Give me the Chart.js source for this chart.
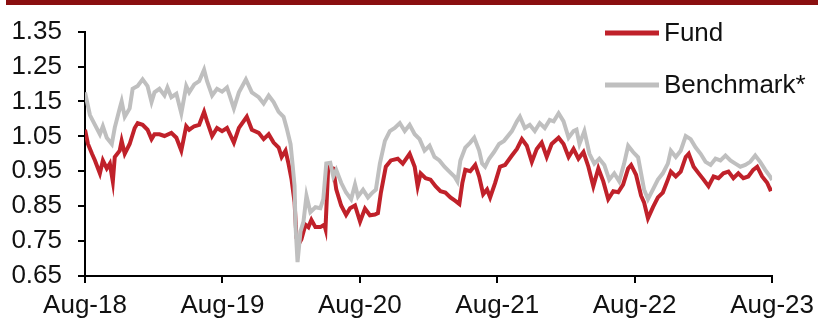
<!DOCTYPE html>
<html>
<head>
<meta charset="utf-8">
<script src="https://cdn.jsdelivr.net/npm/chart.js@4.4.0/dist/chart.umd.min.js"></script>
<style>
    body { margin: 0; background: #fff; }
    #wrap { position: relative; width: 821px; height: 320px; }
    #topBar { position: absolute; left: 6px; right: 3px; top: 0; height: 5px; background: #8a0f10; }
</style>
</head>
<body>
<div id="wrap">
    <div id="topBar"></div>
    <canvas id="myChart"></canvas>
</div>
<script>
// months since Aug-18
const xTickLabels = ['Aug-18', 'Aug-19', 'Aug-20', 'Aug-21', 'Aug-22', 'Aug-23'];
const yTickValues = [0.65, 0.75, 0.85, 0.95, 1.05, 1.15, 1.25, 1.35];

const fundMonths = [0, 0.26, 0.61, 0.87, 1.3, 1.56, 1.9, 2.17, 2.43, 2.6, 3.03, 3.2, 3.47, 3.9, 4.34, 4.6, 5.03, 5.46, 5.81, 6.07,
    6.5, 6.94, 7.54, 7.98, 8.41, 8.84, 9.1, 9.54, 9.97, 10.4, 10.66, 11.1, 11.53, 11.97, 12.4, 13.0, 13.44, 14.13, 14.57, 15.17,
    15.6, 16.04, 16.47, 16.91, 17.17, 17.51, 17.77, 18.04, 18.3, 18.47, 18.73, 18.9, 19.25, 19.51, 19.77, 20.12, 20.55, 20.9, 21.0, 21.24,
    21.68, 21.94, 22.37, 22.8, 23.15, 23.58, 24.02, 24.45, 24.88, 25.32, 25.58, 25.84, 26.27, 26.71, 27.31, 27.75, 28.35, 28.79, 29.05, 29.31,
    29.74, 30.17, 30.61, 31.04, 31.47, 31.91, 32.34, 32.69, 32.95, 33.21, 33.64, 34.08, 34.42, 34.77, 35.11, 35.38, 35.81, 36.24, 36.68, 37.28,
    37.72, 38.15, 38.58, 39.02, 39.45, 39.88, 40.32, 40.75, 41.36, 41.79, 42.23, 42.66, 43.09, 43.53, 43.96, 44.39, 44.83, 45.26, 45.69, 46.13,
    46.56, 46.99, 47.43, 47.69, 48.12, 48.56, 48.82, 49.16, 49.6, 50.03, 50.46, 50.9, 51.16, 51.59, 52.02, 52.46, 52.72, 53.15, 53.59, 54.02,
    54.45, 54.89, 55.32, 55.75, 56.19, 56.62, 57.05, 57.49, 57.92, 58.35, 58.7, 59.13, 59.57, 59.83, 60];
const fundValues = [1.069, 1.028, 1.0, 0.981, 0.944, 0.981, 0.958, 0.972, 0.921, 0.991, 1.009, 1.037, 1.0, 1.028, 1.074, 1.088, 1.083, 1.069, 1.042, 1.056,
    1.056, 1.051, 1.06, 1.046, 1.009, 1.079, 1.069, 1.079, 1.083, 1.12, 1.093, 1.051, 1.074, 1.065, 1.074, 1.032, 1.074, 1.106, 1.069, 1.06,
    1.042, 1.056, 1.032, 1.018, 0.991, 1.009, 0.972, 0.926, 0.861, 0.759, 0.745, 0.755, 0.797, 0.79, 0.811, 0.79, 0.79, 0.797, 0.785, 0.963,
    0.958, 0.898, 0.852, 0.825, 0.844, 0.852, 0.806, 0.843, 0.824, 0.826, 0.83, 0.889, 0.963, 0.981, 0.986, 0.972, 1.0, 0.963, 0.907, 0.944,
    0.93, 0.926, 0.907, 0.893, 0.889, 0.875, 0.865, 0.856, 0.916, 0.954, 0.95, 0.968, 0.935, 0.884, 0.898, 0.875, 0.916, 0.963, 0.968, 0.995,
    1.014, 1.042, 1.023, 0.977, 1.014, 1.032, 0.991, 1.028, 1.046, 1.028, 0.991, 1.014, 0.986, 1.005, 0.963, 0.907, 0.958, 0.921, 0.87, 0.893,
    0.89, 0.912, 0.958, 0.968, 0.94, 0.88, 0.861, 0.815, 0.847, 0.875, 0.889, 0.926, 0.949, 0.935, 0.949, 0.991, 1.0, 0.963, 0.944, 0.926,
    0.907, 0.935, 0.93, 0.944, 0.949, 0.93, 0.944, 0.93, 0.935, 0.954, 0.963, 0.935, 0.917, 0.898, 0.9];

const benchMonths = [0, 0.43, 0.87, 1.3, 1.56, 1.9, 2.34, 2.6, 3.03, 3.2, 3.47, 3.9, 4.16, 4.6, 5.03, 5.46, 5.81, 6.07, 6.5, 6.94,
    7.2, 7.54, 7.98, 8.41, 8.84, 9.1, 9.54, 9.97, 10.4, 10.66, 11.1, 11.53, 11.97, 12.4, 13.0, 13.44, 14.05, 14.57, 15.17, 15.6,
    16.04, 16.47, 16.91, 17.34, 17.6, 17.95, 18.12, 18.3, 18.38, 18.56, 18.82, 19.08, 19.34, 19.68, 20.12, 20.55, 20.81, 21.07, 21.42, 21.68,
    21.94, 22.37, 22.8, 23.24, 23.58, 23.84, 24.28, 24.71, 25.14, 25.4, 25.75, 26.19, 26.62, 27.05, 27.49, 27.92, 28.35, 28.79, 29.22, 29.65,
    30.09, 30.52, 30.95, 31.39, 31.82, 32.26, 32.52, 32.78, 33.21, 33.64, 33.99, 34.42, 34.68, 34.94, 35.29, 35.72, 36.16, 36.59, 37.28, 37.72,
    37.98, 38.41, 38.84, 39.28, 39.71, 40.15, 40.58, 40.93, 41.36, 41.79, 42.23, 42.66, 42.92, 43.18, 43.61, 44.05, 44.48, 44.91, 45.35, 45.78,
    46.22, 46.65, 47.08, 47.43, 47.86, 48.3, 48.56, 48.82, 49.16, 49.6, 50.03, 50.46, 50.9, 51.16, 51.59, 52.02, 52.46, 52.89, 53.33, 53.76,
    54.19, 54.63, 55.06, 55.49, 55.93, 56.36, 56.79, 57.23, 57.66, 58.09, 58.53, 58.96, 59.4, 59.83, 60];
const benchValues = [1.176, 1.111, 1.083, 1.056, 1.079, 1.046, 1.028, 1.075, 1.13, 1.15, 1.106, 1.13, 1.186, 1.194, 1.213, 1.194, 1.148, 1.176, 1.186, 1.167,
    1.19, 1.162, 1.172, 1.116, 1.194, 1.176, 1.199, 1.208, 1.241, 1.208, 1.167, 1.186, 1.178, 1.19, 1.13, 1.176, 1.213, 1.176, 1.162, 1.144,
    1.167, 1.148, 1.12, 1.106, 1.075, 1.028, 0.972, 0.908, 0.797, 0.69, 0.778, 0.806, 0.88, 0.833, 0.847, 0.844, 0.87, 0.972, 0.974, 0.935,
    0.954, 0.917, 0.889, 0.87, 0.912, 0.878, 0.897, 0.875, 0.89, 0.897, 0.972, 1.037, 1.065, 1.074, 1.088, 1.065, 1.083, 1.056, 1.042, 1.009,
    1.023, 0.991, 0.981, 0.963, 0.949, 0.935, 0.921, 0.981, 1.018, 1.032, 1.046, 1.009, 0.972, 0.963, 0.986, 1.005, 1.028, 1.037, 1.065, 1.093,
    1.106, 1.074, 1.083, 1.065, 1.088, 1.074, 1.097, 1.093, 1.116, 1.093, 1.046, 1.065, 1.069, 1.028, 1.065, 1.0, 0.972, 0.986, 0.968, 0.926,
    0.944, 0.921, 0.972, 1.023, 1.005, 0.99, 0.944, 0.898, 0.87, 0.898, 0.926, 0.944, 0.972, 1.009, 0.991, 1.009, 1.051, 1.042, 1.018, 1.0,
    0.977, 0.968, 0.986, 0.981, 0.995, 0.981, 0.972, 0.963, 0.968, 0.977, 0.995, 0.977, 0.954, 0.935, 0.925];

const fundColor = '#c0212a';
const benchColor = '#bfbfbf';

function toPoints(xs, ys) {
    let pts = [];
    for (let i = 0; i < xs.length; i++) {
        pts.push({ x: xs[i], y: ys[i] });
    }
    return pts;
}

// legend drawn by hand, top right inside the plot
const sideLegend = {
    id: 'sideLegend',
    afterDraw(chart) {
        const ctx = chart.ctx;
        const rows = [0, 1];
        ctx.save();
        ctx.font = '26px "Liberation Sans", Arial, sans-serif';
        ctx.textBaseline = 'middle';
        ctx.fillStyle = '#111';
        rows.forEach(function(i) {
            const ds = chart.data.datasets[i];
            const y = 33 + i * 52;
            ctx.strokeStyle = ds.borderColor;
            ctx.lineWidth = 5;
            ctx.beginPath();
            ctx.moveTo(605, y);
            ctx.lineTo(659, y);
            ctx.stroke();
            ctx.fillText(ds.label, 664, y + 1);
        });
        ctx.restore();
    }
};

window.onload = function() {
    Chart.defaults.font.family = '"Liberation Sans", Arial, sans-serif';
    Chart.defaults.font.size = 26;
    Chart.defaults.color = '#111';

    const myChart = document.getElementById('myChart').getContext('2d');

    const lineChart = new Chart(myChart, {
        type: 'line',
        data: {
            datasets: [{
                label: 'Fund',
                data: toPoints(fundMonths, fundValues),
                borderColor: fundColor,
                borderWidth: 4,
                pointRadius: 0,
                tension: 0,
                order: 2
            }, {
                label: 'Benchmark*',
                data: toPoints(benchMonths, benchValues),
                borderColor: benchColor,
                borderWidth: 4,
                pointRadius: 0,
                tension: 0,
                order: 1
            }]
        },
        options: {
            responsive: true,
            maintainAspectRatio: false,
            animation: false,
            layout: { padding: { top: 24, right: 44, left: 0, bottom: 0 } },
            plugins: {
                legend: { display: false },
                tooltip: { enabled: false }
            },
            scales: {
                x: {
                    type: 'linear',
                    min: 0,
                    max: 60,
                    afterBuildTicks: function(scale) {
                        scale.ticks = xTickLabels.map(function(l, i) { return { value: i * 12 }; });
                    },
                    afterFit: function(scale) { scale.height = 44; },
                    ticks: {
                        padding: 7,
                        maxRotation: 0,
                        autoSkip: false,
                        callback: function(v) { return xTickLabels[Math.round(v / 12)]; }
                    },
                    grid: { drawOnChartArea: false, tickLength: 7, color: '#000', lineWidth: 2 },
                    border: { color: '#000', width: 2 }
                },
                y: {
                    min: 0.65,
                    max: 1.35,
                    afterBuildTicks: function(scale) {
                        scale.ticks = yTickValues.map(function(v) { return { value: v }; });
                    },
                    afterFit: function(scale) { scale.width = 85; },
                    ticks: {
                        padding: 16,
                        callback: function(v) { return v.toFixed(2); }
                    },
                    grid: { drawOnChartArea: false, tickLength: 7, color: '#000', lineWidth: 2 },
                    border: { color: '#000', width: 2 }
                }
            }
        },
        plugins: [sideLegend]
    });
};
</script>
</body>
</html>
